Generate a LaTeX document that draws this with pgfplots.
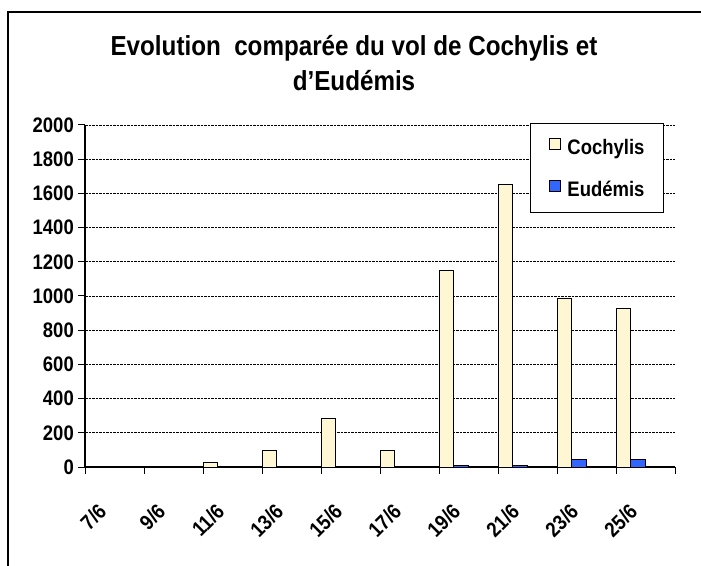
\documentclass[border=0pt]{standalone}
\usepackage{fontspec}
\setmainfont{Liberation Sans}[FakeStretch=0.88]
\usepackage{pgfplots}
\pgfplotsset{compat=1.18}
\definecolor{cochy}{RGB}{255,246,212}
\definecolor{eude}{RGB}{51,102,255}
\newcommand{\tf}{\fontsize{21}{23}\selectfont\bfseries}
\begin{document}
\begin{tikzpicture}[x=1pt,y=1pt]
\useasboundingbox (0,0) rectangle (701,565);
\draw[line width=1.2pt] (8,-5) -- (8,553) -- (710,553);
\node[anchor=base, font=\fontsize{27.5}{30}\selectfont\bfseries] at (354,509.5)
  {Evolution\ \ comparée du vol de Cochylis et};
\node[anchor=base, font=\fontsize{27.5}{30}\selectfont\bfseries] at (354,474)
  {d’Eudémis};
\begin{axis}[
  at={(85pt,98pt)}, anchor=south west,
  scale only axis, width=590pt, height=342pt,
  xmin=0, xmax=10, ymin=0, ymax=2000,
  axis lines*=left,
  axis line style={line width=1.2pt, -},
  ytick={0,200,...,2000},
  xtick={0,...,10}, xticklabels={},
  extra x ticks={0.2,1.2,...,9.2},
  extra x tick labels={7/6,9/6,11/6,13/6,15/6,17/6,19/6,21/6,23/6,25/6},
  extra x tick style={major tick length=0pt,
    tick label style={rotate=45, anchor=north east, inner sep=0pt, xshift=-24.7pt, yshift=-24.7pt}},
  tick align=outside, major tick length=7pt,
  tick style={black, line width=1pt},
  ymajorgrids, major grid style={black, line width=0.8pt, dash pattern=on 2.5pt off 1pt},
  tick label style={font=\tf},
  yticklabel style={inner sep=0pt, xshift=-4pt},
  /pgf/number format/assume math mode=true,
  /pgf/number format/1000 sep={},
  ybar, bar width=14.5pt,
  legend style={at={(0.754,1.006)}, anchor=north west, draw=black, line width=1.2pt,
    fill=white, font=\tf, inner xsep=19pt, inner ysep=14pt, row sep=24pt,
    nodes={inner sep=0pt},
    /tikz/every odd column/.append style={column sep=6pt}},
  legend cell align=left,
  legend image code/.code={\draw[#1, line width=1pt] (0pt,-2pt) rectangle (11pt,9.5pt);},
]
\addplot[fill=cochy, draw=black, line width=1pt, bar shift=7.25pt] coordinates {
  (2,25) (3,95) (4,285) (5,95) (6,1150) (7,1650) (8,985) (9,925)};
\addplot[fill=eude, draw=black, line width=1pt, bar shift=21.8pt] coordinates {
  (6,10) (7,10) (8,45) (9,45)};
\legend{Cochylis,Eudémis}
\end{axis}
\end{tikzpicture}
\end{document}
